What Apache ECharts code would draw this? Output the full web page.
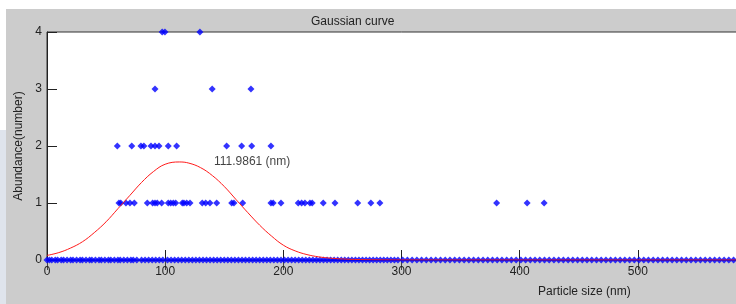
<!DOCTYPE html>
<html>
<head>
<meta charset="utf-8">
<script src="https://cdn.jsdelivr.net/npm/echarts@6/dist/echarts.min.js"></script>
<style>
html,body{margin:0;padding:0;background:#ffffff;overflow:hidden;width:736px;height:304px;}
#main{width:800px;height:304px;}
</style>
</head>
<body>
<div id="main"></div>
<script>
// ---- data ----
var titleText = 'Gaussian curve';
var xAxisTitle = 'Particle size (nm)';
var yAxisTitle = 'Abundance(number)';
var peakLabel = '111.9861 (nm)';
var peakLabelPos = [141.3, 1.72];

var xTicks = [0, 100, 200, 300, 400, 500, 600];
var yTicks = [0, 1, 2, 3, 4];

var row4 = [97.5, 99.8, 129.4];
var row3 = [91.4, 139.8, 172.6];
var row2 = [59.5, 71.7, 79.5, 82, 88, 91.4, 94.8, 102.6, 109.7, 152, 164.7, 173.2, 189.5];
var row1 = [60.9, 62.4, 66.8, 70.2, 73.9, 84.9, 89.4, 91.4, 93.3, 97.0, 102.6, 104.7, 106.9, 108.9,
  114.5, 115.9, 118.2, 121, 131.4, 134.3, 137.9, 143.6, 156.3, 158.2, 165.6, 189.5, 191.4, 198,
  212.6, 215.5, 218.3, 222.5, 224.4, 233.8, 243.7, 262.9, 274.1, 281.7, 380.5, 406.3, 420.7];
var row0 = [0, 2, 4, 7, 9, 12, 14, 17, 20, 22, 25, 28, 30, 33, 36, 38, 41, 44, 46, 49, 52, 54, 57,
  60, 62, 65, 68, 71, 73, 76, 80, 83, 86, 89, 92, 95, 98, 102, 105, 108, 111, 114, 117, 120, 123,
  126, 129, 132, 135, 138, 141, 144, 147, 150, 153, 156, 159, 162, 165, 168, 171, 174, 177, 180,
  183, 186, 189, 192, 195, 198, 201, 204, 207, 210, 213, 216, 219, 222, 225, 228, 231, 234, 237,
  240, 243, 246, 249, 252, 255, 258, 261, 264, 267, 270, 273, 276, 279, 282, 285, 288, 291, 294,
  297, 301, 305, 309, 313, 317, 321, 325, 329, 333, 337, 341, 345, 349, 353, 357, 361, 365, 369,
  373, 377, 381, 385, 389, 393, 397, 401, 405, 409, 413, 417, 421, 425, 429, 433, 437, 441, 445,
  449, 453, 457, 461, 465, 469, 473, 477, 481, 485, 489, 493, 497, 501, 505, 509, 513, 517, 521,
  525, 529, 533, 537, 541, 545, 549, 553, 557, 561, 565, 569, 573, 577, 581, 585, 589, 593, 597];

var curveX = [0, 10, 20, 30, 40, 50, 60, 70, 80, 90, 100, 112, 120, 130, 140, 150, 160, 170, 180,
  190, 200, 210, 220, 230, 240, 250, 260, 280, 300, 400, 500, 600];
var curveY = [0.08, 0.13, 0.21, 0.32, 0.48, 0.67, 0.90, 1.13, 1.36, 1.55, 1.68, 1.72, 1.70, 1.62,
  1.48, 1.29, 1.06, 0.83, 0.61, 0.42, 0.26, 0.16, 0.095, 0.055, 0.032, 0.018, 0.01, 0.003, 0.001,
  0, 0, 0];

// ---- build ----
function pairs(xs, y) { return xs.map(function (x) { return [x, y]; }); }
var scatterData = [].concat(pairs(row0, 0), pairs(row1, 1), pairs(row2, 2), pairs(row3, 3), pairs(row4, 4));
var curveData = curveX.map(function (x, i) { return [x, curveY[i]]; });

var FONT = '"Liberation Sans", Arial, sans-serif';
var chart = echarts.init(document.getElementById('main'), null, {renderer: 'canvas'});
var option = {
  animation: false,
  backgroundColor: '#ffffff',
  graphic: [
    {type: 'rect', z: -10, silent: true, shape: {x: 6, y: 9, width: 794, height: 295}, style: {fill: '#cccccc'}},
    {type: 'rect', z: -10, silent: true, shape: {x: 0, y: 130, width: 6, height: 174}, style: {fill: '#dfe4ec'}}
  ],
  title: [
    {text: titleText, left: 306, top: 11, textStyle: {fontFamily: FONT, fontSize: 12, fontWeight: 'normal', color: '#222'}},
    {text: xAxisTitle, left: 533, top: 281, textStyle: {fontFamily: FONT, fontSize: 12, fontWeight: 'normal', color: '#222'}}
  ],
  grid: {left: 47, top: 32, right: 44, bottom: 44, show: true, backgroundColor: '#ffffff', borderColor: '#333', borderWidth: 1, containLabel: false},
  xAxis: [{
    type: 'value', min: xTicks[0], max: xTicks[xTicks.length - 1], interval: 100,
    axisLine: {show: true, onZero: false, lineStyle: {color: '#222', width: 1}},
    axisTick: {show: true, inside: true, length: 10, lineStyle: {color: '#222'}},
    axisLabel: {margin: 6, fontFamily: FONT, fontSize: 12, color: '#222'},
    splitLine: {show: false}
  }, {
    type: 'value', position: 'top', min: xTicks[0], max: xTicks[xTicks.length - 1], interval: 100,
    axisLine: {show: true, lineStyle: {color: '#444', width: 1}},
    axisTick: {show: true, inside: true, length: 10, lineStyle: {color: '#444'}},
    axisLabel: {show: false}, splitLine: {show: false}
  }],
  yAxis: {
    type: 'value', min: yTicks[0], max: yTicks[yTicks.length - 1], interval: 1,
    name: yAxisTitle, nameLocation: 'middle', nameRotate: 90, nameGap: 21,
    nameTextStyle: {fontFamily: FONT, fontSize: 12, color: '#222'},
    axisLine: {show: true, lineStyle: {color: '#222', width: 1}},
    axisTick: {show: true, inside: true, length: 10, lineStyle: {color: '#222'}},
    axisLabel: {margin: 5, fontFamily: FONT, fontSize: 12, color: '#222'},
    splitLine: {show: false}
  },
  series: [{
    type: 'scatter', data: scatterData, symbol: 'diamond', symbolSize: 7,
    itemStyle: {color: '#0000ff'}, z: 2, clip: true
  }, {
    type: 'line', data: curveData, smooth: 0.4, showSymbol: false, symbol: 'none',
    lineStyle: {color: '#ff1a1a', width: 1}, z: 3, clip: true
  }, {
    type: 'scatter', data: [peakLabelPos], symbolSize: 0, z: 4,
    label: {show: true, position: 'right', distance: 0, formatter: peakLabel, fontFamily: FONT, fontSize: 12, color: '#111'}
  }]
};
chart.setOption(option);
</script>
</body>
</html>
